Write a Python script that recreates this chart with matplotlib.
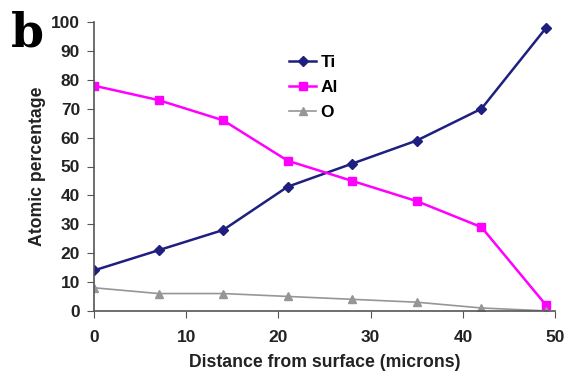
import matplotlib.pyplot as plt

distance = [0, 7, 14, 21, 28, 35, 42, 49]
ti = [14, 21, 28, 43, 51, 59, 70, 98]
al = [78, 73, 66, 52, 45, 38, 29, 2]
o = [8, 6, 6, 5, 4, 3, 1, 0]

plt.rcParams['font.family'] = ['Liberation Sans', 'DejaVu Sans']

fig = plt.figure(figsize=(5.66, 3.75), dpi=100)
ax = fig.add_axes([0.166, 0.171, 0.815, 0.770])

ax.plot(distance, ti, color="#1f1f80", marker="D", markersize=5, lw=1.8, label="Ti")
ax.plot(distance, al, color="#ff00ff", marker="s", markersize=6, lw=1.8, label="Al")
ax.plot(distance, o, color="#969696", marker="^", markersize=6, lw=1.2, label="O")

ax.set_xlim(0, 50)
ax.set_ylim(0, 100)
ax.set_xticks(range(0, 51, 10))
ax.set_yticks(range(0, 101, 10))
ax.spines["top"].set_visible(False)
ax.spines["right"].set_visible(False)
for s in ["left", "bottom"]:
    ax.spines[s].set_color("#555555")
    ax.spines[s].set_linewidth(1.2)
ax.tick_params(direction="out", length=5, color="#555555", labelsize=12.5)
ax.tick_params(axis="x", pad=9)
ax.tick_params(axis="y", pad=5)
for lbl in ax.get_xticklabels() + ax.get_yticklabels():
    lbl.set_fontweight("bold")
    lbl.set_color("#222222")

ax.set_xlabel("Distance from surface (microns)", fontsize=12.7, fontweight="bold",
              color="#222222", labelpad=6)
ax.set_ylabel("Atomic percentage", fontsize=12.7, fontweight="bold", color="#222222",
              labelpad=4)

ax.legend(loc="upper left", bbox_to_anchor=(0.39, 0.94), frameon=False,
          prop={"weight": "bold", "size": 12.5}, handlelength=1.5, handletextpad=0.3,
          labelspacing=0.55)

fig.text(0.02, 0.875, "b", fontsize=34, fontweight="bold", family="DejaVu Serif")

fig.savefig("out.png", dpi=100)
